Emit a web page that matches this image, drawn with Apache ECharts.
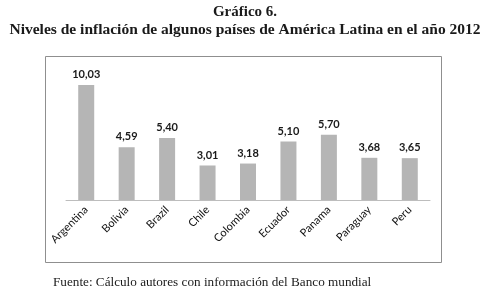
<!DOCTYPE html>
<html>
<head>
<meta charset="utf-8">
<script src="https://cdn.jsdelivr.net/npm/echarts@6/dist/echarts.min.js"></script>
<style>
  html, body { margin: 0; padding: 0; background: #fff; }
  #chart { width: 490px; height: 294px; }
</style>
</head>
<body>
<div id="chart"></div>
<script>
// inflation 2012
const countries = ['Argentina', 'Bolivia', 'Brazil', 'Chile', 'Colombia', 'Ecuador', 'Panama', 'Paraguay', 'Peru'];
const inflation = [10.03, 4.59, 5.40, 3.01, 3.18, 5.10, 5.70, 3.68, 3.65];

const titleText = 'Gráfico 6.';
const subtitleText = 'Niveles de inflación de algunos países de América Latina en el año 2012';
const sourceText = 'Fuente: Cálculo autores con información del Banco mundial';

const serif = '"Liberation Serif", "DejaVu Serif", serif';
const sans = 'Lato, "Open Sans", sans-serif';

let myChart = echarts.init(document.getElementById('chart'));

myChart.setOption({
  animation: false,
  graphic: [
    {
      type: 'text', left: 'center', top: 5,
      style: { text: titleText, font: 'bold 15px ' + serif, fill: '#1a1a1a' }
    },
    {
      type: 'text', left: 'center', top: 22,
      style: { text: subtitleText, font: 'bold 15.5px ' + serif, fill: '#1a1a1a' }
    },
    {
      type: 'rect',
      shape: { x: 45.5, y: 56.5, width: 396, height: 206 },
      style: { fill: 'none', stroke: '#8f8f8f', lineWidth: 1 },
      z: -1
    },
    {
      type: 'text', left: 53, top: 276,
      style: { text: sourceText, font: '13.2px ' + serif, fill: '#1a1a1a' }
    }
  ],
  grid: { left: 66, right: 60, top: 62.4, height: 137.6 },
  xAxis: {
    type: 'category',
    data: countries,
    axisLine: { lineStyle: { color: '#bdbdbd', width: 1 } },
    axisTick: { show: false },
    axisLabel: {
      rotate: 45, margin: 8, interval: 0,
      fontFamily: sans, fontSize: 11, color: '#111'
    }
  },
  yAxis: {
    type: 'value', min: 0, max: 12,
    show: false, splitLine: { show: false }
  },
  series: [{
    type: 'bar',
    data: inflation,
    barWidth: 16,
    itemStyle: { color: '#b5b5b5' },
    label: {
      show: true, position: 'top', distance: 5,
      fontFamily: sans, fontSize: 11, fontWeight: 'bold', color: '#1a1a1a',
      formatter: p => p.value.toFixed(2).replace('.', ',')
    }
  }]
});
</script>
</body>
</html>
